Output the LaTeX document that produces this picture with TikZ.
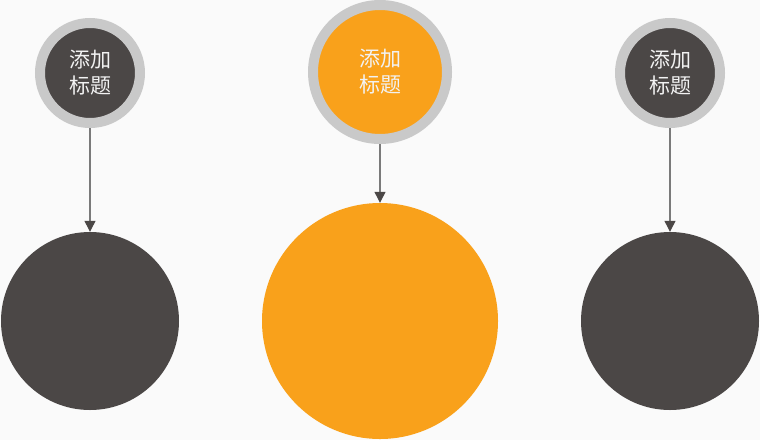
\documentclass[tikz,border=0pt]{standalone}
\usepackage{fontspec}
\usepackage{tikz}
\usetikzlibrary{arrows.meta}
\newfontfamily\cjk{Noto Sans CJK SC}
\definecolor{bgc}{HTML}{FAFAFA}
\definecolor{darkc}{HTML}{4B4746}
\definecolor{orangec}{HTML}{F9A11B}
\definecolor{ringc}{HTML}{C9C9C9}
\definecolor{linec}{HTML}{7A7A7A}

\begin{document}
\begin{tikzpicture}[x=1pt,y=-1pt,
		title/.style={circle,draw=ringc,line width=10pt,inner sep=0pt,text=white!95!black,
			align=center,font=\cjk\fontsize{21}{26}\selectfont},
		big/.style={circle,inner sep=0pt}]
			\fill[bgc] (0,0) rectangle (760,440);
			\useasboundingbox (0,0) rectangle (760,440);
			
			% small title circles
			
			\node[title,fill=darkc,minimum size=100pt] (T1) at (90,73) {添加\\标题};
			\node[title,fill=orangec,minimum size=134pt] (T2) at (380,72) {添加\\标题};
			\node[title,fill=darkc,minimum size=100pt] (T3) at (670,73) {添加\\标题};
			
			% big circles
			
			\node[big,fill=darkc,minimum size=178pt] (B1) at (90,321) {};
			\node[big,fill=orangec,minimum size=236pt] (B2) at (380,321) {};
			\node[big,fill=darkc,minimum size=178pt] (B3) at (670,321) {};
			
			\foreach \i in {1,2,3} {
				\draw[linec,line width=1.2pt,-{Triangle[width=11pt,length=11pt,fill=darkc,color=darkc]}] (T\i) -- (B\i);
			}
		\end{tikzpicture}
\end{document}
